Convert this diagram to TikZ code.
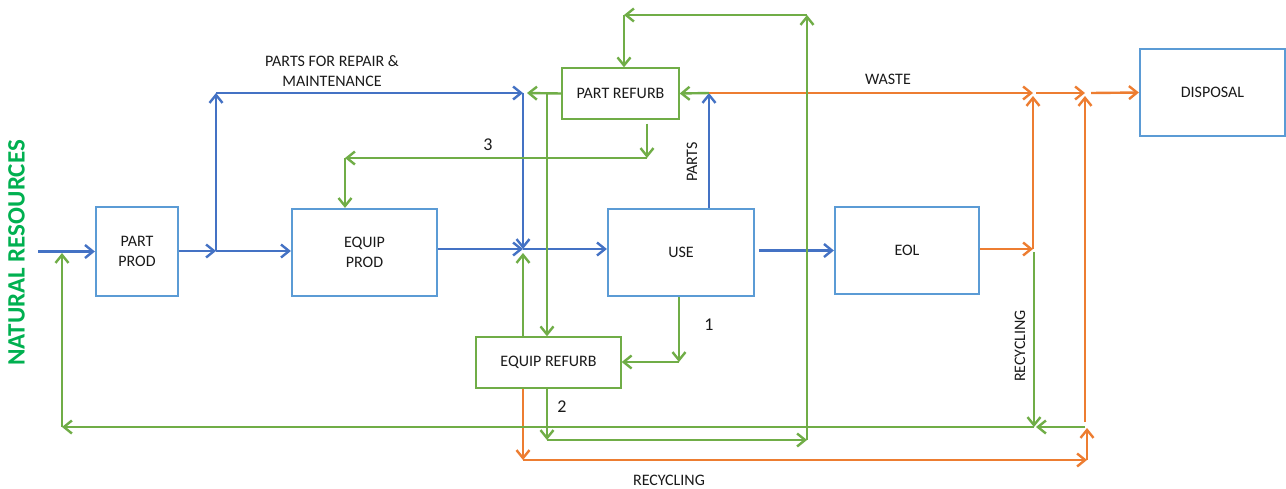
\documentclass[tikz,border=0pt]{standalone}
\usepackage{fontspec}
\setmainfont{Carlito}
\usetikzlibrary{arrows.meta,calc}
\definecolor{boxblue}{HTML}{5B9BD5}
\definecolor{arrblue}{HTML}{4472C4}
\definecolor{grn}{HTML}{70AD47}
\definecolor{org}{HTML}{ED7D31}
\definecolor{nrgreen}{HTML}{00B050}
\definecolor{txt}{HTML}{1A1A1A}
\begin{document}
\begin{tikzpicture}[x=1pt,y=-1pt,
  every node/.style={font=\fontsize{16}{20}\selectfont, text=txt},
  bluebox/.style={draw=boxblue, line width=2.2pt, inner sep=0pt, align=center},
  greenbox/.style={draw=grn, line width=1.4pt, inner sep=0pt, align=center},
  flow/.style={line width=2.4pt, -{Straight Barb[length=8pt,width=13pt]}},
  bflow/.style={flow, draw=arrblue},
  gflow/.style={flow, draw=grn},
  oflow/.style={flow, draw=org},
  num/.style={font=\fontsize{18}{20}\selectfont},
]
\useasboundingbox (0,0) rectangle (1286,488);

% boxes
\node[bluebox, minimum width=82pt, minimum height=89pt] (pp) at (137,251.5) {PART\\PROD};
\node[bluebox, minimum width=145pt, minimum height=87pt] (ep) at (364.5,252.5) {EQUIP\\PROD};
\node[bluebox, minimum width=146pt, minimum height=87pt] (use) at (681,252.5) {USE};
\node[bluebox, minimum width=144pt, minimum height=87pt] (eol) at (907,250.5) {EOL};
\node[bluebox, minimum width=145pt, minimum height=87pt] (disp) at (1212.5,92.5) {DISPOSAL};
\node[greenbox, minimum width=117pt, minimum height=51pt] (pr) at (620.5,93.5) {PART REFURB};
\node[greenbox, minimum width=145pt, minimum height=51pt] (er) at (548.5,362.5) {EQUIP REFURB};

\node[rotate=90, inner sep=0pt, text=nrgreen, font=\fontsize{25}{30}\selectfont\bfseries] (nrl) at (16.5,253) {NATURAL RESOURCES};

% junction coordinates
\coordinate (nr) at (38,251.5);
\coordinate (j1) at (216,251);
\coordinate (j2) at (216,93);
\coordinate (j3) at (523,93);
\coordinate (j4) at (523,249);
\coordinate (j5) at (709,93);
\coordinate (j6) at (1033,93);
\coordinate (j7) at (1085,93);
\coordinate (j8) at (1033,249);
\coordinate (j9) at (1085,427);
\coordinate (j10) at (523,460);
\coordinate (j11) at (1087,460);
\coordinate (g1) at (1034,427);
\coordinate (g2) at (62,427);
\coordinate (g3) at (547,93);
\coordinate (g4) at (647,158);
\coordinate (g5) at (345,158);
\coordinate (g6) at (679,362);
\coordinate (g7) at (547,440);
\coordinate (g8) at (807,440);
\coordinate (g9) at (807,15);
\coordinate (g10) at (624,15);

% blue flows
\draw[bflow] (nr) -- (nr -| pp.west);
\draw[bflow] (pp.east |- j1) -- (j1);
\draw[bflow] (j1) -- (j2);
\draw[bflow] (j1) -- (j1 -| ep.west);
\draw[bflow] (j2) -- (j3);
\draw[bflow] (j3) -- (j4);
\draw[bflow] (ep.east |- j4) -- (j4);
\draw[bflow] (j4) -- (j4 -| use.west);
\draw[bflow] ($(use.east |- eol.west)+(4,0)$) -- (eol.west);
\draw[bflow] (j5 |- use.north) -- (j5);

% orange flows
\draw[oflow] (j5) -- (j6);
\draw[oflow] ($(j6)+(3,0)$) -- (j7);
\draw[oflow] ($(j7)+(6,0)$) -- (disp.west);
\draw[oflow] (eol.east |- j8) -- (j8);
\draw[oflow] (j8) -- ($(j6)+(0,3)$);
\draw[oflow] ($(j9)+(0,-5)$) -- ($(j7)+(0,3)$);
\draw[oflow] (er.south -| j10) -- (j10);
\draw[oflow] (j10) -- (j11);
\draw[oflow] (j11) -- ($(j9)+(2,1)$);

% green flows
\draw[gflow] ($(j8)+(1,3)$) -- (g1);
\draw[gflow] (j9) -- ($(g1)+(2,0)$);
\draw[gflow] (g1) -- (g2);
\draw[gflow] (g2) -- ($(g2 |- nr)+(0,1.5)$);
\draw[gflow] (pr.west) -- ($(j3)+(4,0)$);
\draw[gflow] (j5) -- (pr.east);
\draw[gflow] (g3) -- (g3 |- er.north);
\draw[gflow] ($(g4 |- pr.south)+(0,4)$) -- (g4);
\draw[gflow] (g4) -- (g5);
\draw[gflow] (g5) -- (g5 |- ep.north);
\draw[gflow] (er.north -| j4) -- ($(j4)+(0,4)$);
\draw[gflow] (g6 |- use.south) -- (g6);
\draw[gflow] (g6) -- (er.east |- g6);
\draw[gflow] (g3 |- er.south) -- (g7);
\draw[gflow] (g7) -- (g8);
\draw[gflow] (g8) -- (g9);
\draw[gflow] (g9) -- (g10);
\draw[gflow] (g10) -- (g10 |- pr.north);

% labels
\node[align=center] (lpfr) at (332,71) {PARTS FOR REPAIR \&\\MAINTENANCE};
\node[rotate=90] (lparts) at (692,162) {PARTS};
\node (lwaste) at (888,79) {WASTE};
\node[rotate=90] (lrec1) at (1020,346) {RECYCLING};
\node (lrec2) at (669,480) {RECYCLING};
\node[num] (n1) at (709,325) {1};
\node[num] (n2) at (562,407) {2};
\node[num] (n3) at (488,145) {3};
\end{tikzpicture}
\end{document}
